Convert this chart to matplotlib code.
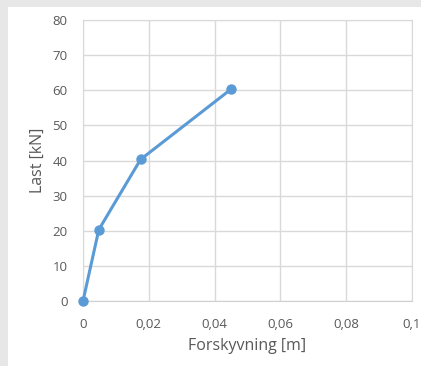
import matplotlib.pyplot as plt
from matplotlib.patches import Rectangle
from matplotlib.ticker import MultipleLocator

plt.rcParams['font.family'] = ['Open Sans', 'DejaVu Sans']

# data
forskyvning = [0.0, 0.0048, 0.0175, 0.045]
last = [0.0, 20.3, 40.3, 60.3]

x_ticks = [0, 0.02, 0.04, 0.06, 0.08, 0.1]
x_tick_labels = ['0', '0,02', '0,04', '0,06', '0,08', '0,1']

W, H = 421, 366
fig = plt.figure(figsize=(W / 100, H / 100), dpi=100)
fig.patch.set_facecolor('#e7e7e7')
# white chart area behind the axes
fig.patches.append(Rectangle((8 / W, 0), 1 - 8 / W, 1 - 7 / H,
                             transform=fig.transFigure, facecolor='white',
                             edgecolor='none', zorder=-5))

ax = fig.add_axes([83 / W, 1 - 301 / H, (412 - 83) / W, (301 - 20) / H])
ax.set_zorder(1)
ax.set_facecolor('white')

ax.plot(forskyvning, last, color='#5b9bd5', linewidth=2.2,
        marker='o', markersize=6.5, zorder=3, clip_on=False)

ax.set_xlim(0, 0.1)
ax.set_ylim(0, 80)
ax.set_xticks(x_ticks)
ax.set_xticklabels(x_tick_labels)
ax.yaxis.set_major_locator(MultipleLocator(10))

ax.grid(True, color='#d9d9d9', linewidth=1.0)
ax.set_axisbelow(True)
for side in ['top', 'right', 'left']:
    ax.spines[side].set_color('#d9d9d9')
ax.spines['bottom'].set_color('#d0d0d0')

ax.tick_params(length=0, colors='#595959', labelsize=9.5)
ax.tick_params(axis='x', pad=12)
ax.tick_params(axis='y', pad=11)

ax.set_xlabel('Forskyvning [m]', color='#595959', fontsize=11.5, labelpad=5)
ax.set_ylabel('Last [kN]', color='#595959', fontsize=11.5, labelpad=5)

fig.savefig('out.png', dpi=100, facecolor=fig.get_facecolor())
